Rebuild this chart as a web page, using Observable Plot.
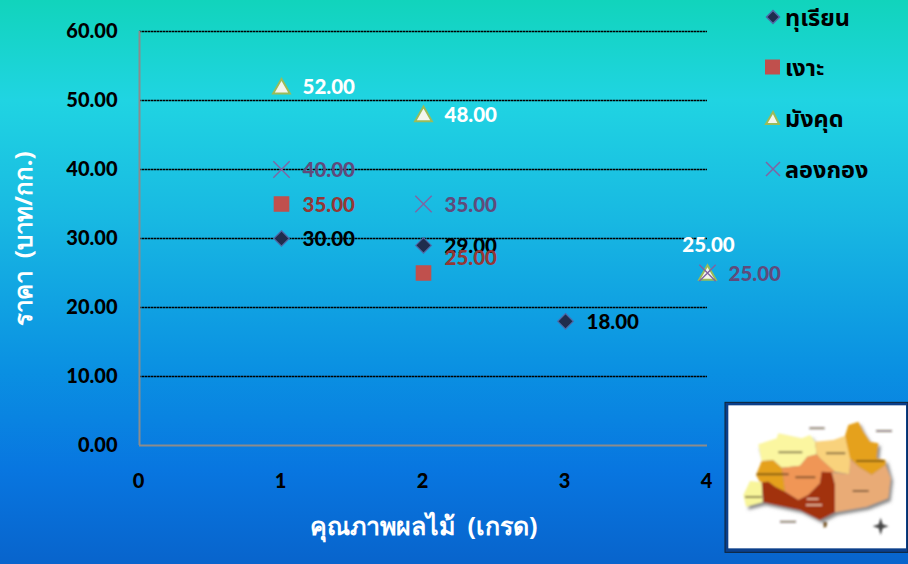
<!DOCTYPE html>
<html>
<head>
<meta charset="utf-8">
<script src="https://cdn.jsdelivr.net/npm/d3@7"></script>
<script src="https://cdn.jsdelivr.net/npm/@observablehq/plot@0.6"></script>
<style>
html,body{margin:0;padding:0;width:908px;height:564px;overflow:hidden}
body{position:relative;font-family:Lato,"Noto Sans",sans-serif;font-weight:700;
background:linear-gradient(180deg,#11d4bc 0px,#20d4e2 100px,#18b8e2 220px,#0a90e2 370px,#0876e0 470px,#0864cc 564px)}
#chart{position:absolute;left:0;top:0}
#chart svg{background:transparent!important}
.lg{position:absolute;left:764px;display:flex;align-items:center;height:34px;line-height:34px;font:700 23.5px/34px "Noto Sans","Noto Sans Thai",Lato,sans-serif;color:#000;white-space:nowrap}
.lg svg{width:18px;height:18px;margin-right:3px;flex:none}
#map{position:absolute;left:720px;top:395px;width:188px;height:169px}
</style>
</head>
<body>
<div id="chart"></div>
<div class="lg" style="top:0px"><svg viewBox="0 0 18 18"><path d="M9 2.500l6.500 6.500-6.500 6.500-6.500-6.500z" fill="#1f2d4d" stroke="#4f6aa8" stroke-width="1.500"/></svg>ทุเรียน</div>
<div class="lg" style="top:50px"><svg viewBox="0 0 18 18"><rect x="1" y="1.500" width="15" height="15" fill="#c0504d"/></svg>เงาะ</div>
<div class="lg" style="top:101px"><svg viewBox="0 0 18 18"><path d="M9 3l6 12H2z" fill="#f4f6ee" stroke="#9bbb59" stroke-width="2"/></svg>มังคุด</div>
<div class="lg" style="top:152px"><svg viewBox="0 0 18 18"><path d="M2 2l14 14M16 2L2 16" fill="none" stroke="#8064a2" stroke-width="1.500"/></svg>ลองกอง</div>
<svg id="map" viewBox="0 0 564 507">
<defs>
<filter id="soft" x="-5%" y="-5%" width="110%" height="110%"><feGaussianBlur stdDeviation="2.500"/></filter>
<filter id="shadow" x="-10%" y="-10%" width="120%" height="120%"><feGaussianBlur stdDeviation="5"/></filter>
</defs>
<rect x="15" y="22" width="549" height="450" fill="#0b3f8a" stroke="#123" stroke-width="3"/>
<rect x="25" y="31" width="533" height="429" fill="#fff"/>
<g filter="url(#soft)">
<path d="M78 295L90 258 125 262 120 205 125 190 112 150 170 130 175 115 245 130 270 120 285 140 340 135 375 122 385 90 415 80 430 110 450 140 475 145 470 190 497 195 512 250 505 310 440 335 345 352 300 375 240 345 130 322 78 335z" transform="translate(7,9)" fill="#888" filter="url(#shadow)"/>
<path d="M115 148L170 130 175 115 245 130 270 120 285 140 290 178 262 185 240 212 185 218 160 196 125 198z" fill="#fbf6a0"/>
<path d="M285 140L340 135 375 122 392 190 388 238 345 230 302 192 290 178z" fill="#f9d27c"/>
<path d="M375 122L385 90 415 80 430 110 450 140 475 145 470 190 497 195 497 210 455 240 415 215 390 190z" fill="#e5a11c"/>
<path d="M390 192L415 215 455 240 497 210 512 250 505 310 440 335 345 352 345 270 335 232 388 238z" fill="#e9ab76"/>
<path d="M185 218L240 212 262 185 290 178 302 192 345 230 335 232 305 230 300 265 265 300 235 315 195 290 190 248z" fill="#f09656"/>
<path d="M125 198L160 196 185 218 190 248 195 290 165 275 145 260 120 262 108 240z" fill="#e5a11c"/>
<path d="M90 258L125 262 128 322 78 335 70 300z" fill="#f8f59a"/>
<path d="M125 262L145 260 165 275 195 290 235 315 265 300 300 265 305 230 335 232 345 270 345 352 300 375 240 345 130 322z" fill="#a2300a"/>
<path d="M310 380l12 2-3 14-8 2z" fill="#7a5a2a"/>
<path d="M175 172h72M318 175h58M408 198h85M110 238h96M226 247h60M75 306h50M398 288h48M268 100h46M468 108h48M180 380h48" stroke="#332211" stroke-width="6" opacity="0.55"/>
<path d="M260 312h36M258 330h48" stroke="#f4d8c0" stroke-width="6" opacity="0.7"/>
<path d="M482 368l6 20 18 6-18 6-6 20-6-20-18-6 18-6z" fill="#444"/>
</g>
</svg>
<script>
const grades = [0, 1, 2, 3, 4];
const yTicks = [0, 10, 20, 30, 40, 50, 60];
const gridValues = [10, 20, 30, 40, 50, 60];
const durianX = [1, 2, 3];
const durianY = [30, 29, 18];
const rambutanX = [1, 2];
const rambutanY = [35, 25];
const mangosteenX = [1, 2, 4];
const mangosteenY = [52, 48, 25];
const longkongX = [1, 2, 4];
const longkongY = [40, 35, 25];
const rows = (xs, ys) => xs.map((x, i) => ({x, y: ys[i]}));
const fmt = d => d.y.toFixed(2);
const durian = rows(durianX, durianY);
const rambutan = rows(rambutanX, rambutanY);
const mangosteen = rows(mangosteenX, mangosteenY);
const longkong = rows(longkongX, longkongY);
const lab = {fontFamily: "Lato, sans-serif", fontWeight: 900, fontSize: 20.5, textAnchor: "start", dx: 21, dy: 1};
const plot = Plot.plot({
  width: 908, height: 564,
  marginLeft: 139, marginRight: 201, marginTop: 31, marginBottom: 119,
  style: {background: "transparent", overflow: "visible"},
  x: {domain: [0, 4], ticks: grades, label: null},
  y: {domain: [0, 60], ticks: yTicks, label: null},
  marks: [
    Plot.ruleY(gridValues, {stroke: "#000", strokeWidth: 1.3, strokeDasharray: "2.500 0.500"}),
    Plot.ruleX([0], {stroke: "#8c8c8c", strokeWidth: 2}),
    Plot.ruleY([0], {stroke: "#8c8c8c", strokeWidth: 2}),
    Plot.axisX({ticks: grades, tickSize: 0, tickPadding: 28, dx: -1, tickFormat: d => d, fontFamily: "Lato, sans-serif", fontWeight: 900, fontSize: 20, fill: "#000", label: null}),
    Plot.axisY({ticks: yTicks, tickSize: 0, tickPadding: 22, tickFormat: d => d.toFixed(2), fontFamily: "Lato, sans-serif", fontWeight: 900, fontSize: 20, fill: "#000", label: null}),
    Plot.text(["ราคา\u00a0\u00a0(บาท/กก.)"], {frameAnchor: "left", textAnchor: "middle", dx: -115, rotate: -90, fontFamily: "Noto Sans, sans-serif", fontWeight: 700, fontSize: 24, fill: "#fff"}),
    Plot.text(["คุณภาพผลไม้\u00a0\u00a0(เกรด)"], {x: [2], y: [0], dy: 81, fontFamily: "Noto Sans, sans-serif", fontWeight: 700, fontSize: 25, fill: "#fff"}),
    Plot.dot(mangosteen, {x: "x", y: "y", symbol: "triangle2", r: 8, dy: 2, fill: "#f4f6ee", stroke: "#9bbb59", strokeWidth: 2}),
    Plot.dot(longkong, {x: "x", y: "y", symbol: "times", r: 7.5, stroke: "#8064a2", strokeWidth: 1.4}),
    Plot.dot(rambutan, {x: "x", y: "y", symbol: "square2", r: 9, fill: "#c0504d", stroke: "#c0504d"}),
    Plot.dot(durian, {x: "x", y: "y", symbol: "diamond2", r: 7, fill: "#1f2d4d", stroke: "#4f6aa8", strokeWidth: 1.2}),
    Plot.text(durian, {x: "x", y: "y", text: fmt, fill: "#000", ...lab}),
    Plot.text(rambutan.filter(d => d.x === 1), {x: "x", y: "y", text: fmt, fill: "#953735", ...lab}),
    Plot.text(rambutan.filter(d => d.x === 2), {x: "x", y: "y", text: fmt, fill: "#953735", ...lab, dy: -15}),
    Plot.text(mangosteen.filter(d => d.x < 4), {x: "x", y: "y", text: fmt, fill: "#fff", ...lab}),
    Plot.text(mangosteen.filter(d => d.x === 4), {x: "x", y: "y", text: fmt, fill: "#fff", ...lab, textAnchor: "middle", dx: 1, dy: -28}),
    Plot.text(longkong, {x: "x", y: "y", text: fmt, fill: "#604a7b", ...lab})
  ]
});
document.getElementById("chart").append(plot);
</script>
</body>
</html>
